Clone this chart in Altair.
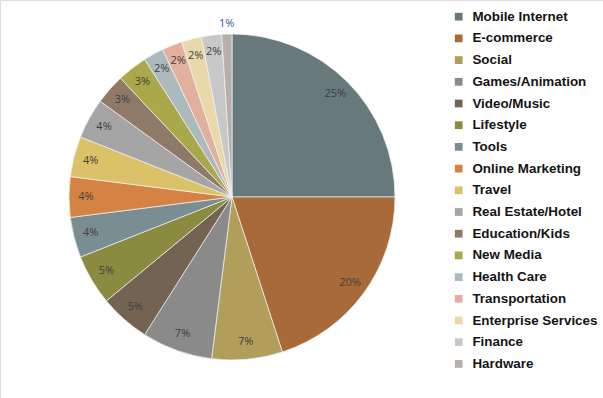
import altair as alt
import pandas as pd

categories = ["Mobile Internet", "E-commerce", "Social", "Games/Animation", "Video/Music",
              "Lifestyle", "Tools", "Online Marketing", "Travel", "Real Estate/Hotel",
              "Education/Kids", "New Media", "Health Care", "Transportation",
              "Enterprise Services", "Finance", "Hardware"]
values = [25, 20, 7, 7, 5, 5, 4, 4, 4, 4, 3, 3, 2, 2, 2, 2, 1]
colors = ["#67797D", "#A86A38", "#B09E5A", "#8A8A8A", "#736353", "#8A8A40", "#788E93",
          "#D58345", "#DBC269", "#A5A5A5", "#8F7A68", "#A9A84A", "#ACBABE", "#E2B09E",
          "#E8D8AA", "#C8C8C8", "#B7AFA9"]

df = pd.DataFrame({"category": categories, "value": values, "idx": list(range(len(categories)))})
df["label"] = df["value"].astype(str) + "%"
total = float(sum(values))

theta_scale = alt.Scale(domain=[0, total])

stacked = alt.Chart(df).transform_stack(
    stack="value", groupby=[], as_=["v0", "v1"], sort=[alt.SortField("idx", order="ascending")]
).transform_calculate(mid="(datum.v0 + datum.v1) / 2")

arcs = stacked.mark_arc(outerRadius=163, stroke="#F2F2F2", strokeWidth=0.7).encode(
    theta=alt.Theta("v0:Q", scale=theta_scale),
    theta2="v1:Q",
    x=alt.value(232),
    y=alt.value(197),
    color=alt.Color("category:N", sort=categories,
                    scale=alt.Scale(domain=categories, range=colors),
                    legend=alt.Legend(title=None, orient="none", legendX=452, legendY=10,
                                      symbolType="square", symbolSize=60, symbolStrokeWidth=0,
                                      labelFont="Liberation Sans", labelFontWeight="bold",
                                      labelFontSize=13.4, labelColor="#141414",
                                      rowPadding=6.7, labelOffset=7, labelLimit=200))
)

text_enc = dict(
    theta=alt.Theta("mid:Q", scale=theta_scale),
    x=alt.value(232),
    y=alt.value(197),
    text="label:N",
)

labels_in = stacked.transform_filter("datum.value > 1").mark_text(
    radius=146, font="Open Sans", fontSize=11, color="#404040"
).encode(**text_enc)

labels_out = stacked.transform_filter("datum.value <= 1").mark_text(
    radius=173, font="Open Sans", fontSize=11, color="#2F55A0"
).encode(**text_enc)

chart = (arcs + labels_in + labels_out).properties(
    width=603, height=398, autosize=alt.AutoSizeParams(type="none"), padding=0
).configure_view(stroke=None).configure(background="white")

chart.save("out.html", embed_options={"renderer": "svg", "actions": False})
